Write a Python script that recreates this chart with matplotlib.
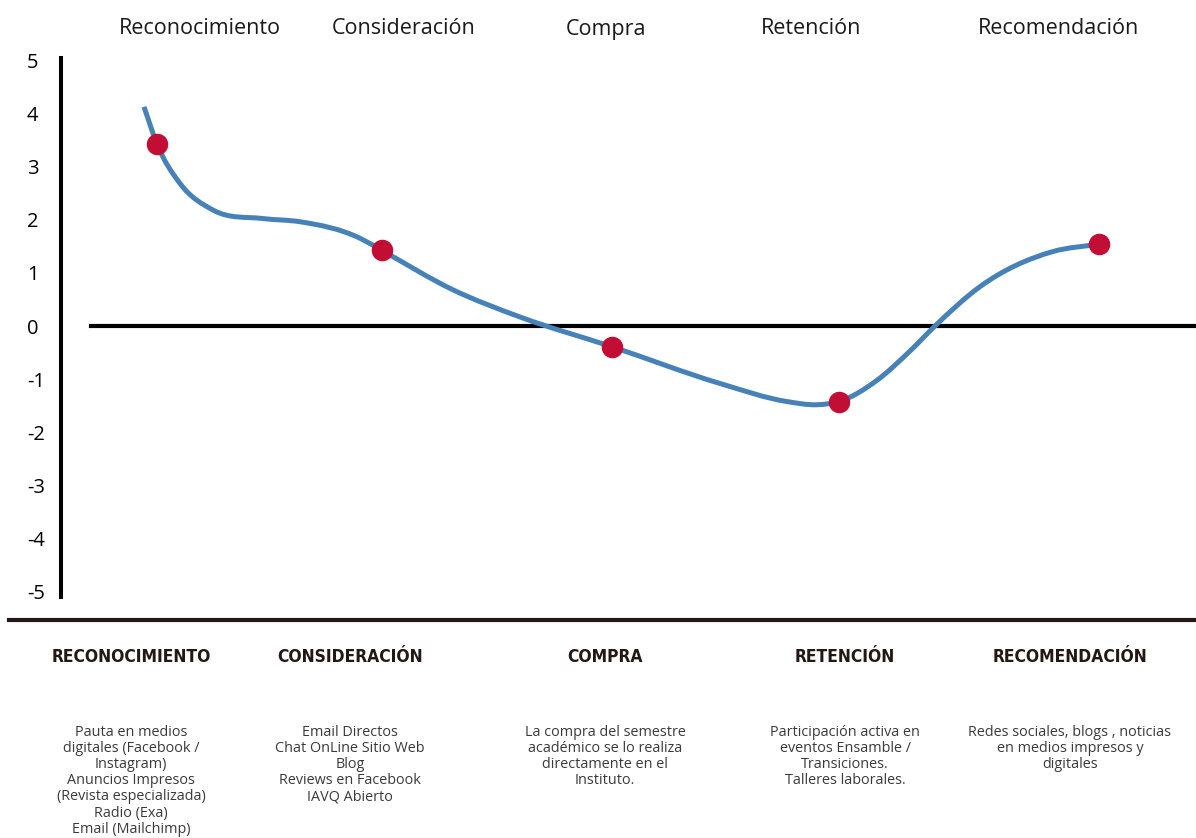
import matplotlib
matplotlib.use('Agg')
import matplotlib.pyplot as plt
from matplotlib.lines import Line2D
from matplotlib.path import Path
from matplotlib.patches import PathPatch

# ── Data ─────────────────────────────────────────────────────────────────────
stages = ['Reconocimiento', 'Consideración', 'Compra', 'Retención', 'Recomendación']
stage_x = [157, 382, 612, 839, 1099]          # position along the journey
stage_score = [3.42, 1.42, -0.39, -1.42, 1.54]

# traced knots of the smooth experience curve
curve_x = [144, 157, 180, 213, 263, 300, 360, 382, 453, 520, 612, 720, 787,
           817, 839, 877, 910, 935, 980, 1053, 1099]
curve_y = [4.12, 3.42, 2.68, 2.18, 2.02, 1.96, 1.65, 1.42, 0.68, 0.17, -0.39,
           -1.08, -1.42, -1.48, -1.42, -1.02, -0.47, 0.0, 0.74, 1.40, 1.54]

yticks = list(range(-5, 6))

headings = ['RECONOCIMIENTO', 'CONSIDERACIÓN', 'COMPRA', 'RETENCIÓN', 'RECOMENDACIÓN']
heading_x = [131, 350, 605, 845, 1070]
top_label_x = [200, 404, 606, 811, 1058]
descriptions = [
    'Pauta en medios\ndigitales (Facebook /\nInstagram)\nAnuncios Impresos\n'
    '(Revista especializada)\nRadio (Exa)\nEmail (Mailchimp)',
    'Email Directos\nChat OnLine Sitio Web\nBlog\nReviews en Facebook\nIAVQ Abierto',
    'La compra del semestre\nacadémico se lo realiza\ndirectamente en el\nInstituto.',
    'Participación activa en\neventos Ensamble /\nTransiciones.\nTalleres laborales.',
    'Redes sociales, blogs , noticias\nen medios impresos y\ndigitales',
]

# ── Layout (pixel based, 1196 x 838) ─────────────────────────────────────────
W, H = 1196, 838
def fx(x): return x / W
def fy(y): return 1 - y / H

BLUE = '#4681b8'
RED = '#c20e35'
DARK = '#231815'


def smooth_path(xs, ys):
    """Cubic Hermite curve y(x) through the knots, as Bezier segments."""
    n = len(xs)
    h = [xs[i + 1] - xs[i] for i in range(n - 1)]
    d = [(ys[i + 1] - ys[i]) / h[i] for i in range(n - 1)]
    m = [d[0]]
    for i in range(1, n - 1):
        m.append((d[i - 1] * h[i] + d[i] * h[i - 1]) / (h[i - 1] + h[i]))
    m.append(d[-1])
    verts = [(xs[0], ys[0])]
    codes = [Path.MOVETO]
    for i in range(n - 1):
        verts += [(xs[i] + h[i] / 3, ys[i] + m[i] * h[i] / 3),
                  (xs[i + 1] - h[i] / 3, ys[i + 1] - m[i + 1] * h[i] / 3),
                  (xs[i + 1], ys[i + 1])]
        codes += [Path.CURVE4] * 3
    return Path(verts, codes)


fig = plt.figure(figsize=(W / 100, H / 100), dpi=100)
ax = fig.add_axes([fx(61), fy(597), fx(W) - fx(61), fy(58) - fy(597)])
ax.set_xlim(61, W)
ax.set_ylim(-5.094, 5.038)

ax.axhline(0, xmin=(91 - 61) / (W - 61), xmax=1, color='black', lw=3, zorder=1)
ax.add_patch(PathPatch(smooth_path(curve_x, curve_y), fill=False, edgecolor=BLUE,
                       lw=3.6, capstyle='butt', zorder=2))
ax.plot(stage_x, stage_score, 'o', color=RED, ms=15.5, mec='none', zorder=3)

for s in ['top', 'right', 'bottom']:
    ax.spines[s].set_visible(False)
ax.spines['left'].set_linewidth(2.9)
ax.spines['left'].set_color('black')
ax.set_xticks([])
ax.set_yticks(yticks)
ax.set_yticklabels([str(v) for v in yticks], family='Open Sans', fontsize=14.5)
ax.tick_params(axis='y', length=0, pad=24.5)
for lbl in ax.get_yticklabels():
    lbl.set_horizontalalignment('left')

# stage names above the chart
for name, x in zip(stages, top_label_x):
    fig.text(fx(x), fy(29), name, ha='center', va='center',
             family='Open Sans', fontsize=15.5, color='#1a1a1a')

# separator line
fig.add_artist(Line2D([fx(9), 1], [fy(620), fy(620)], color=DARK, lw=3,
                      transform=fig.transFigure))

# headings and channel descriptions
for head, hx, desc in zip(headings, heading_x, descriptions):
    fig.text(fx(hx), fy(657), head, ha='center', va='center',
             family='DejaVu Sans', stretch='condensed', weight='bold',
             fontsize=12.5, color=DARK)
    fig.text(fx(hx), fy(725), desc, ha='center', va='top', multialignment='center',
             family='Open Sans', fontsize=10.4, color='#3a3a3a', linespacing=1.1)

fig.savefig('out.png', dpi=100)
